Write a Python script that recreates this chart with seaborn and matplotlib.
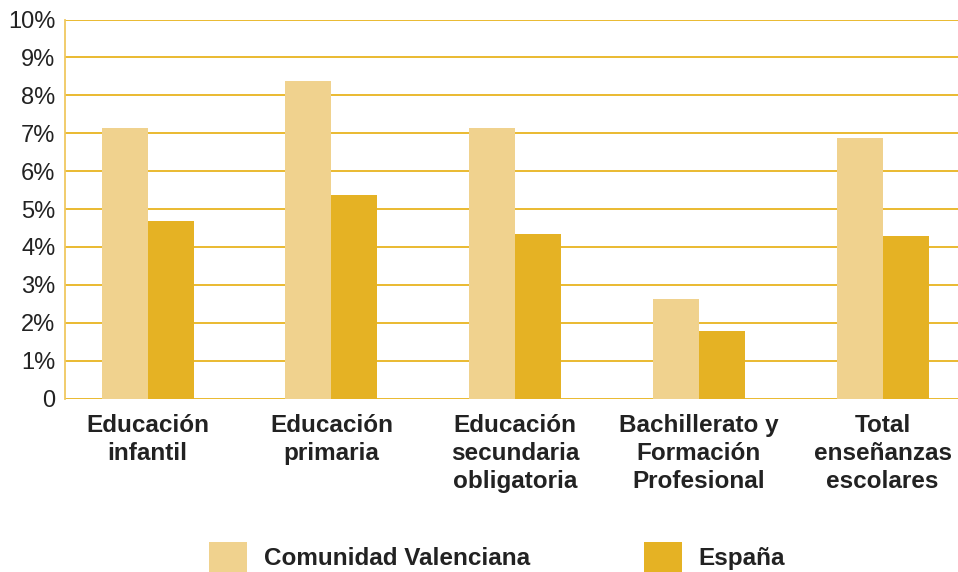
import matplotlib
matplotlib.use("Agg")
import matplotlib.pyplot as plt
import seaborn as sns
import pandas as pd

categories = ["Educación\ninfantil", "Educación\nprimaria", "Educación\nsecundaria\nobligatoria",
              "Bachillerato y\nFormación\nProfesional", "Total\nenseñanzas\nescolares"]
series_names = ["Comunidad Valenciana", "España"]
cv_values = [7.15, 8.37, 7.15, 2.63, 6.87]
es_values = [4.69, 5.38, 4.35, 1.78, 4.30]
ytick_values = [0, 1, 2, 3, 4, 5, 6, 7, 8, 9, 10]
ytick_labels = ["0", "1%", "2%", "3%", "4%", "5%", "6%", "7%", "8%", "9%", "10%"]
colors = ["#F0D28E", "#E5B224"]

df = pd.DataFrame({
    "cat": categories * 2,
    "serie": [series_names[0]] * len(categories) + [series_names[1]] * len(categories),
    "val": cv_values + es_values,
})

sns.set_style("white")
plt.rcParams["font.family"] = ["Liberation Sans", "DejaVu Sans"]

fig = plt.figure(figsize=(9.58, 5.72), dpi=100)
ax = fig.add_axes([65 / 958, 1 - 398.5 / 572, 1 - 65 / 958, (398.5 - 19.5) / 572])

sns.barplot(data=df, x="cat", y="val", hue="serie", palette=colors, width=0.5,
            saturation=1, ax=ax, zorder=3, linewidth=0, legend=True)

ax.set_ylim(0, 10)
ax.set_xlim(-0.45, 4.41)
ax.set_yticks(ytick_values)
ax.set_yticklabels(ytick_labels, fontsize=17, color="#222222")
ax.tick_params(axis="y", length=0, pad=7)
ax.tick_params(axis="x", length=0, pad=11)
for lbl in ax.get_xticklabels():
    lbl.set_fontweight("bold")
    lbl.set_fontsize(17.5)
    lbl.set_color("#222222")
    lbl.set_linespacing(1.28)
ax.set_xlabel("")
ax.set_ylabel("")

for y in ytick_values:
    ax.axhline(y, color="#E8B420", linewidth=1.3, zorder=1)

for s in ["top", "right", "bottom"]:
    ax.spines[s].set_visible(False)
ax.spines["left"].set_color("#F0C860")
ax.spines["left"].set_linewidth(1.3)

handles, labels = ax.get_legend_handles_labels()
ax.get_legend().remove()
fig.legend(handles, labels, loc="center", bbox_to_anchor=(497 / 958, 1 - 557 / 572), ncol=2,
           frameon=False, handlelength=1.56, handleheight=1.56, handletextpad=0.7,
           columnspacing=4.7, borderpad=0, prop={"weight": "bold", "size": 17.5})
for t in fig.legends[0].get_texts():
    t.set_color("#222222")

fig.savefig("out.png", dpi=100)
